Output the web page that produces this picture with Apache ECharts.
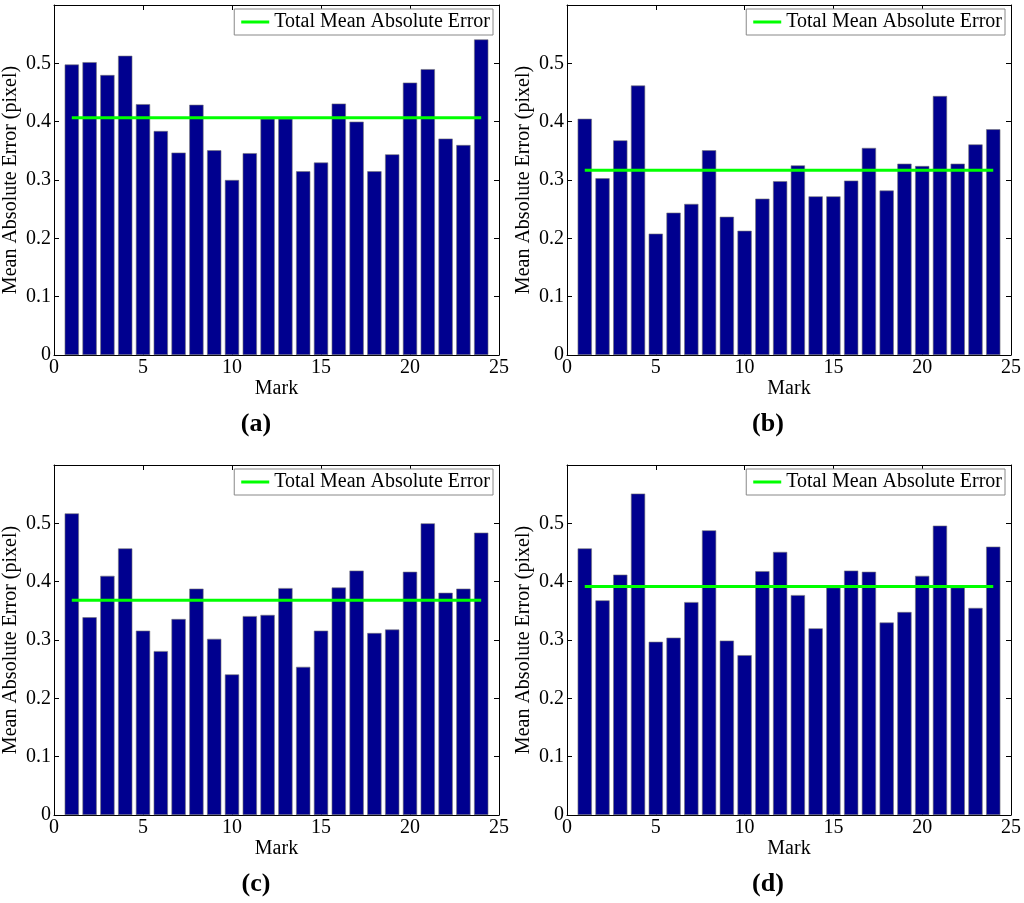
<!DOCTYPE html>
<html><head><meta charset="utf-8">
<script src="https://cdn.jsdelivr.net/npm/echarts@6/dist/echarts.min.js"></script>
<style>html,body{margin:0;padding:0;background:#fff}#c{width:1024px;height:903px}</style>
</head><body><div id="c"></div>
<script>
// ---- data ----
const marks = [1,2,3,4,5,6,7,8,9,10,11,12,13,14,15,16,17,18,19,20,21,22,23,24];
const errorsA = [0.498,0.502,0.480,0.513,0.430,0.384,0.347,0.429,0.351,0.300,0.346,0.405,0.405,0.315,0.330,0.431,0.400,0.315,0.344,0.467,0.490,0.371,0.360,0.541];
const errorsB = [0.405,0.303,0.368,0.462,0.208,0.244,0.259,0.351,0.237,0.213,0.268,0.298,0.325,0.272,0.272,0.299,0.355,0.282,0.328,0.324,0.444,0.328,0.361,0.387];
const errorsC = [0.517,0.339,0.410,0.457,0.316,0.281,0.336,0.388,0.302,0.241,0.341,0.343,0.389,0.254,0.316,0.390,0.419,0.312,0.318,0.417,0.500,0.381,0.388,0.484];
const errorsD = [0.457,0.368,0.412,0.551,0.297,0.304,0.365,0.488,0.299,0.274,0.418,0.451,0.377,0.320,0.390,0.419,0.417,0.330,0.348,0.410,0.496,0.390,0.355,0.460];
const totalMeans = [0.4066, 0.3166, 0.3682, 0.3918];
const meanLineSpan = [1, 24];
const xTicks = {min: 0, max: 25, interval: 5};
const yTicks = {min: 0, max: 0.6, interval: 0.1, lastLabel: 0.5};
const captions = ['(a)', '(b)', '(c)', '(d)'];
const legendName = 'Total Mean Absolute Error';
const xName = 'Mark';
const yName = 'Mean Absolute Error (pixel)';

const allErrors = [errorsA, errorsB, errorsC, errorsD];

// ---- layout / style ----
const FONT = '"Liberation Serif", "Times New Roman", serif';
const FS = 20;
const panels = [
  {left: 53, top: 5, width: 446, height: 350, capX: 256, capY: 424},
  {left: 567, top: 5, width: 444, height: 350, capX: 768, capY: 424},
  {left: 53, top: 465, width: 446, height: 350, capX: 256, capY: 884},
  {left: 567, top: 465, width: 444, height: 350, capX: 768, capY: 884}
];
const axisLine = {show: true, onZero: false, lineStyle: {color: '#000', width: 1}};
const tick = {show: true, inside: true, length: 5, lineStyle: {color: '#000', width: 1}};
const labelStyle = {color: '#000', fontFamily: FONT, fontSize: FS};

const grid = [], xAxis = [], yAxis = [], series = [], legend = [], graphic = [];
panels.forEach((p, i) => {
  grid.push({left: p.left, top: p.top, width: p.width, height: p.height, show: false});
  xAxis.push({
    gridIndex: i, type: 'value', position: 'bottom', min: xTicks.min, max: xTicks.max, interval: xTicks.interval,
    name: xName, nameLocation: 'middle', nameGap: 22,
    nameTextStyle: {color: '#000', fontFamily: FONT, fontSize: FS},
    axisLine, axisTick: tick, splitLine: {show: false},
    axisLabel: Object.assign({margin: 3, showMinLabel: true, showMaxLabel: true}, labelStyle)
  });
  xAxis.push({
    gridIndex: i, type: 'value', position: 'top', min: xTicks.min, max: xTicks.max, interval: xTicks.interval,
    axisLine, axisTick: tick, splitLine: {show: false}, axisLabel: {show: false}
  });
  yAxis.push({
    gridIndex: i, type: 'value', position: 'left', min: yTicks.min, max: yTicks.max, interval: yTicks.interval,
    name: yName, nameLocation: 'middle', nameGap: 33,
    nameTextStyle: {color: '#000', fontFamily: FONT, fontSize: FS},
    axisLine, axisTick: tick, splitLine: {show: false},
    axisLabel: Object.assign({margin: 3, showMinLabel: true, showMaxLabel: true,
      formatter: v => (v > yTicks.lastLabel + 1e-6) ? '' : (Math.abs(v) < 1e-9 ? '0' : v.toFixed(1))}, labelStyle)
  });
  yAxis.push({
    gridIndex: i, type: 'value', position: 'right', min: yTicks.min, max: yTicks.max, interval: yTicks.interval,
    axisLine, axisTick: tick, splitLine: {show: false}, axisLabel: {show: false}
  });
  series.push({
    type: 'bar', xAxisIndex: 2 * i, yAxisIndex: 2 * i,
    data: marks.map((m, k) => [m, allErrors[i][k]]),
    barWidth: '80%',
    itemStyle: {color: '#00008F', borderColor: '#777', borderWidth: 0.6},
    silent: true, animation: false
  });
  series.push({
    type: 'line', name: legendName, xAxisIndex: 2 * i, yAxisIndex: 2 * i,
    data: meanLineSpan.map(x => [x, totalMeans[i]]),
    symbol: 'none', lineStyle: {color: '#00FF00', width: 3}, itemStyle: {color: '#00FF00'},
    silent: true, animation: false, z: 3
  });
  legend.push({
    data: [legendName], right: 1024 - (p.left + p.width - 6), top: p.top + 4,
    backgroundColor: '#fff', borderColor: '#888', borderWidth: 1, borderRadius: 0,
    padding: [3, 3, 3, 7], itemWidth: 28, itemHeight: 3, icon: 'rect', selectedMode: false,
    textStyle: {color: '#000', fontFamily: FONT, fontSize: FS}
  });
  graphic.push({
    type: 'text', x: p.capX, y: p.capY,
    style: {text: captions[i], font: 'bold 26px ' + FONT, fill: '#000', align: 'center', verticalAlign: 'middle'}
  });
});

const chart = echarts.init(document.getElementById('c'), null, {renderer: 'canvas'});
chart.setOption({backgroundColor: '#fff', animation: false, grid, xAxis, yAxis, series, legend, graphic});
</script></body></html>
